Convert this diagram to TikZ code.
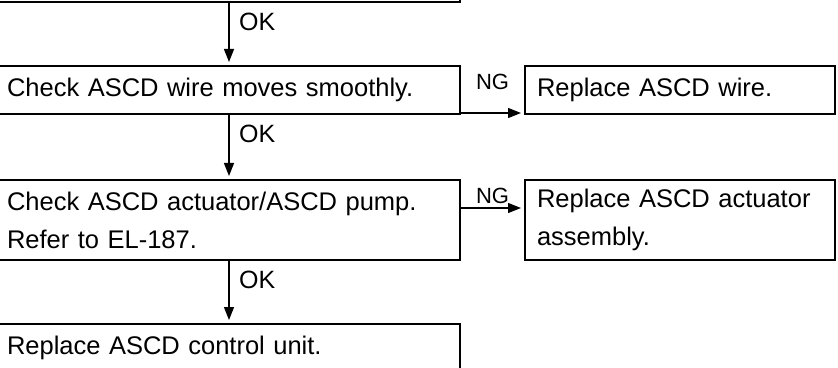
\documentclass[tikz,border=0pt]{standalone}
\usepackage{fontspec}
\setmainfont{Liberation Sans}
\usetikzlibrary{arrows.meta,positioning,calc}

\begin{document}
\begin{tikzpicture}[
  node distance=62pt,
  box/.style={draw,line width=2pt,align=left,font=\fontsize{25.5}{38}\selectfont,
              minimum height=48pt,inner xsep=9pt,text width=444pt},
  rbox/.style={box,inner xsep=12pt,text width=286pt},
  oklbl/.style={font=\fontsize{25}{28}\selectfont,inner sep=3pt},
  nglbl/.style={font=\fontsize{22}{26}\selectfont,inner sep=3pt},
  link/.style={->,line width=1.3pt,shorten >=3pt},
  >={Triangle[length=13pt,width=10pt]}]
\useasboundingbox (0,0) rectangle (838pt,367pt);
\node[box] (prev) at (229pt,389pt) {};
\node[box,below=of prev] (wire) {Check ASCD wire moves smoothly.};
\node[rbox,right=63pt of wire] (rwire) {Replace ASCD wire.};
\node[box,below=64pt of wire,minimum height=80pt] (act) {Check ASCD actuator/ASCD pump.\\Refer to EL-187.};
\node[rbox,right=63pt of act,minimum height=80pt] (ract) {Replace ASCD actuator\\assembly.};
\node[box,below=of act] (unit) {Replace ASCD control unit.};
% OK / NG labels
\node[oklbl,anchor=north west] (ok1) at ([xshift=7pt,yshift=-7pt]prev.south) {OK};
\node[oklbl,anchor=north west] (ok2) at ([xshift=7pt,yshift=-7pt]wire.south) {OK};
\node[oklbl,anchor=north west] (ok3) at ([xshift=7pt,yshift=-7pt]act.south) {OK};
\node[nglbl,anchor=north,yshift=-6pt] (ng1) at ($(wire.north east)!0.5!(rwire.north west)$) {NG};
\node[nglbl,anchor=north,yshift=-6pt] (ng2) at ($(act.north east)!0.5!(ract.north west)$) {NG};
\draw[link] (prev) -- (wire);
\draw[link] (wire) -- (act);
\draw[link] (act) -- (unit);
\draw[link] ([yshift=2pt]wire.south east) -- ([yshift=2pt]wire.south east -| rwire.west);
\draw[link] ([yshift=-29pt]act.north east) -- ([yshift=-29pt]act.north east -| ract.west);
\end{tikzpicture}
\end{document}
